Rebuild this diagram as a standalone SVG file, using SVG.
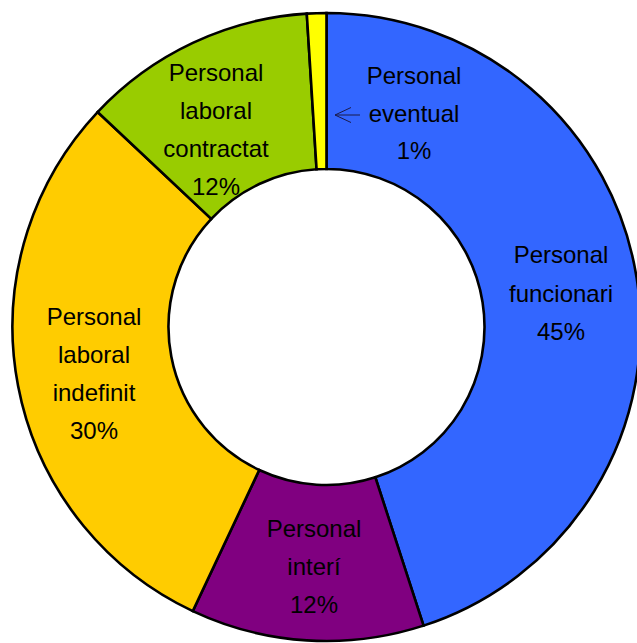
<svg xmlns="http://www.w3.org/2000/svg" width="637" height="643" viewBox="0 0 637 643">
<style>
.slice{stroke:#000;stroke-width:2.6;stroke-linejoin:miter}
.lbl{font-family:"Liberation Sans",Arial,sans-serif;font-size:24px;fill:#000;text-anchor:middle}
.conn{fill:none;stroke:#1a1a4a;stroke-width:1}
</style>
<rect width="637" height="643" fill="#fff"/>
<g id="funcionari">
<path class="slice" fill="#3366FF" d="M 326.5 13 A 314 314 0 0 1 423.53 625.63 L 375.33 477.27 A 158 158 0 0 0 326.5 169 Z"/>
<text class="lbl" x="561" y="263">Personal</text>
<text class="lbl" x="561" y="302">funcionari</text>
<text class="lbl" x="561" y="340">45%</text>
</g>
<g id="interi">
<path class="slice" fill="#800080" d="M 423.53 625.63 A 314 314 0 0 1 192.8 611.12 L 259.23 469.96 A 158 158 0 0 0 375.33 477.27 Z"/>
<text class="lbl" x="314" y="537">Personal</text>
<text class="lbl" x="314" y="575">interí</text>
<text class="lbl" x="314" y="613">12%</text>
</g>
<g id="indefinit">
<path class="slice" fill="#FFCC00" d="M 192.8 611.12 A 314 314 0 0 1 97.6 112.05 L 211.32 218.84 A 158 158 0 0 0 259.23 469.96 Z"/>
<text class="lbl" x="94" y="325">Personal</text>
<text class="lbl" x="94" y="363">laboral</text>
<text class="lbl" x="94" y="401">indefinit</text>
<text class="lbl" x="94" y="439">30%</text>
</g>
<g id="contractat">
<path class="slice" fill="#99CC00" d="M 97.6 112.05 A 314 314 0 0 1 306.78 13.62 L 316.58 169.31 A 158 158 0 0 0 211.32 218.84 Z"/>
<text class="lbl" x="216" y="81">Personal</text>
<text class="lbl" x="216" y="119">laboral</text>
<text class="lbl" x="216" y="157">contractat</text>
<text class="lbl" x="216" y="195">12%</text>
</g>
<g id="eventual">
<path class="slice" fill="#FFFF00" d="M 306.78 13.62 A 314 314 0 0 1 326.5 13 L 326.5 169 A 158 158 0 0 0 316.58 169.31 Z"/>
<text class="lbl" x="414" y="84">Personal</text>
<text class="lbl" x="414" y="122">eventual</text>
<text class="lbl" x="414" y="159">1%</text>
</g>
<g id="connectors">
<path class="conn" d="M 360 115 L 335 115 M 351 107.5 L 335 115 L 351 122.5"/>
</g>
</svg>
